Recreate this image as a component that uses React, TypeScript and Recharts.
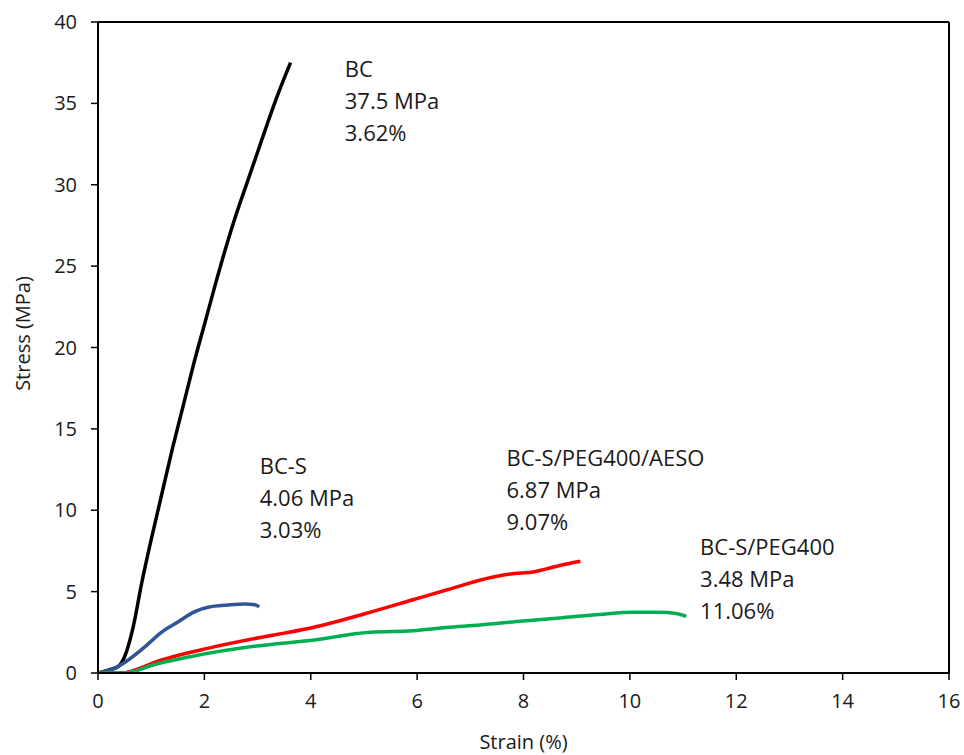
import React from 'react';
import { LineChart, Line, XAxis, YAxis, ReferenceLine, ReferenceDot } from 'recharts';

// strain (%) / stress (MPa)
const bcStrain = [0, 0.19, 0.38, 0.5, 0.66, 0.82, 1.0, 1.2, 1.4, 1.6, 1.8, 2.0, 2.2, 2.4, 2.6, 2.8, 3.0, 3.2, 3.4, 3.62];
const bcStress = [0, 0.18, 0.4, 1.0, 2.8, 5.5, 8.2, 11.0, 13.8, 16.4, 19.0, 21.4, 23.8, 26.1, 28.2, 30.1, 32.0, 33.9, 35.7, 37.5];

const bcsStrain = [0, 0.32, 0.57, 0.88, 1.19, 1.51, 1.82, 2.07, 2.45, 2.76, 2.95, 3.03];
const bcsStress = [0, 0.3, 0.8, 1.6, 2.5, 3.15, 3.77, 4.04, 4.18, 4.24, 4.2, 4.06];

const aesoStrain = [0, 0.47, 0.79, 1.1, 1.41, 2.04, 3.0, 3.5, 4.04, 5.05, 5.92, 6.55, 7.43, 7.8, 8.18, 8.43, 8.81, 9.07];
const aesoStress = [0, 0, 0.3, 0.7, 1.0, 1.5, 2.15, 2.45, 2.8, 3.67, 4.5, 5.1, 5.9, 6.1, 6.2, 6.4, 6.7, 6.87];

const pegStrain = [0, 0.47, 0.66, 0.97, 1.73, 2.98, 3.98, 5.11, 5.92, 6.55, 7.18, 7.99, 8.74, 9.43, 10.06, 10.56, 10.87, 11.06];
const pegStress = [0, 0, 0.08, 0.43, 1.0, 1.66, 2.0, 2.5, 2.6, 2.8, 2.95, 3.2, 3.4, 3.6, 3.73, 3.73, 3.65, 3.48];

const xTicks = [0, 2, 4, 6, 8, 10, 12, 14, 16];
const yTicks = [0, 5, 10, 15, 20, 25, 30, 35, 40];

const noteBC = ['BC', '37.5 MPa', '3.62%'];
const noteBCS = ['BC-S', '4.06 MPa', '3.03%'];
const noteAESO = ['BC-S/PEG400/AESO', '6.87 MPa', '9.07%'];
const notePEG = ['BC-S/PEG400', '3.48 MPa', '11.06%'];

const FONT = '"Open Sans", sans-serif';
const TEXT = '#1a1a1a';

const zip = (xs: number[], ys: number[]) => xs.map((x, i) => ({ x, y: ys[i] }));

const series = [
  { name: 'BC', data: zip(bcStrain, bcStress), color: '#000000' },
  { name: 'BC-S', data: zip(bcsStrain, bcsStress), color: '#2F5597' },
  { name: 'BC-S/PEG400/AESO', data: zip(aesoStrain, aesoStress), color: '#FF0000' },
  { name: 'BC-S/PEG400', data: zip(pegStrain, pegStress), color: '#00B050' },
];

// where each text block starts (first line baseline), in axis units
const notes = [
  { lines: noteBC, at: [4.64, 36.6] },
  { lines: noteBCS, at: [3.04, 12.2] },
  { lines: noteAESO, at: [7.68, 12.7] },
  { lines: notePEG, at: [11.32, 7.25] },
];

const noteShape = (lines: string[]) => (props: any) => (
  <text x={props.cx} y={props.cy} fontSize={22} fontFamily={FONT} fill={TEXT}>
    {lines.map((t, i) => (
      <tspan key={i} x={props.cx} dy={i === 0 ? 0 : 32}>{t}</tspan>
    ))}
  </text>
);

const yLabel = (props: any) => {
  const vb = props.viewBox;
  const cx = vb.x + 22;
  const cy = vb.y + vb.height / 2 - 14;
  return (
    <text
      x={cx}
      y={cy}
      transform={`rotate(-90 ${cx} ${cy})`}
      textAnchor="middle"
      dominantBaseline="central"
      fontSize={20}
      fontFamily={FONT}
      fill={TEXT}
    >
      Stress (MPa)
    </text>
  );
};

export default function App() {
  return (
    <div style={{ position: 'absolute', left: 0, top: 0, background: '#fff' }}>
      <LineChart width={964} height={755} margin={{ top: 22, right: 15, bottom: 0, left: 0 }}>
        <XAxis
          type="number"
          dataKey="x"
          domain={[0, 16]}
          ticks={xTicks}
          allowDataOverflow
          height={82}
          tickSize={7}
          tickMargin={14}
          axisLine={{ stroke: '#000', strokeWidth: 2 }}
          tickLine={{ stroke: '#000', strokeWidth: 1.5 }}
          tick={{ fill: TEXT, fontSize: 20, fontFamily: FONT }}
          label={{ value: 'Strain (%)', position: 'insideBottom', offset: 6, fill: TEXT, fontSize: 20, fontFamily: FONT }}
        />
        <YAxis
          type="number"
          domain={[0, 40]}
          ticks={yTicks}
          allowDataOverflow
          width={98}
          tickSize={7}
          tickMargin={14}
          axisLine={{ stroke: '#000', strokeWidth: 2 }}
          tickLine={{ stroke: '#000', strokeWidth: 1.5 }}
          tick={{ fill: TEXT, fontSize: 20, fontFamily: FONT }}
          label={{ content: yLabel }}
        />
        <ReferenceLine y={40} stroke="#000" strokeWidth={2} />
        <ReferenceLine x={16} stroke="#000" strokeWidth={2} />
        {series.map((s) => (
          <Line
            key={s.name}
            data={s.data}
            dataKey="y"
            name={s.name}
            type="monotone"
            stroke={s.color}
            strokeWidth={3.5}
            dot={false}
            activeDot={false}
            isAnimationActive={false}
          />
        ))}
        {notes.map((n, i) => (
          <ReferenceDot key={i} x={n.at[0]} y={n.at[1]} r={0} shape={noteShape(n.lines)} />
        ))}
      </LineChart>
    </div>
  );
}
